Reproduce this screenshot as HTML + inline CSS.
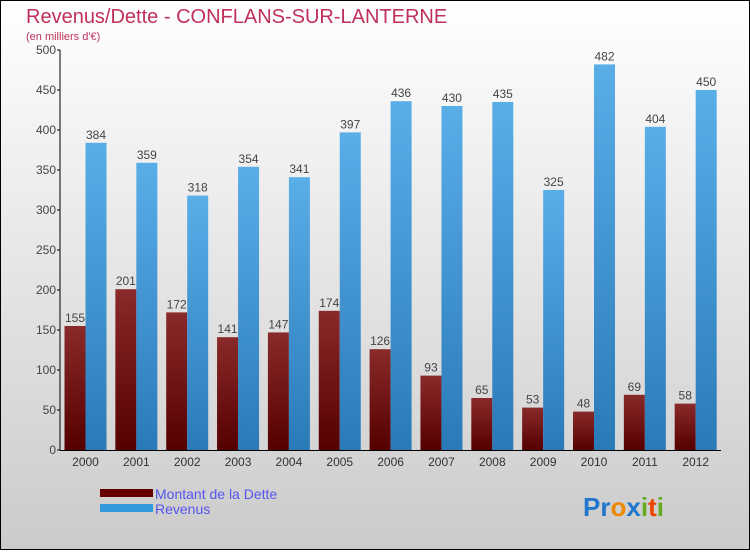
<!DOCTYPE html>
<html><head><meta charset="utf-8"><style>
body{margin:0}
#c{width:750px;height:550px;position:relative;font-family:"Liberation Sans",sans-serif}
</style></head><body>
<div id="c">
<svg id="s" width="750" height="550" xmlns="http://www.w3.org/2000/svg">
<defs>
<linearGradient id="bg" x1="0" y1="0" x2="0" y2="1"><stop offset="0" stop-color="#ffffff"/><stop offset="1" stop-color="#cbcbcb"/></linearGradient>
<linearGradient id="gd" x1="0" y1="0" x2="0" y2="1"><stop offset="0" stop-color="#8a2a2a"/><stop offset="1" stop-color="#550000"/></linearGradient>
<linearGradient id="gr" x1="0" y1="0" x2="0" y2="1"><stop offset="0" stop-color="#5aaee8"/><stop offset="1" stop-color="#2a7ab8"/></linearGradient>
</defs>
<rect x="0.5" y="0.5" width="749" height="549" fill="url(#bg)" stroke="#000"/>
<text x="26" y="23" font-size="20" fill="#c0305a">Revenus/Dette - CONFLANS-SUR-LANTERNE</text>
<text x="26" y="40" font-size="11" fill="#c0305a">(en milliers d'€)</text>
<g id="plot"></g>
<rect x="100" y="489" width="53" height="8" fill="#660000"/>
<text x="155" y="499" font-size="14" fill="#5555ee">Montant de la Dette</text>
<rect x="100" y="504" width="53" height="8" fill="#3399dd"/>
<text x="155" y="514" font-size="14" fill="#5555ee">Revenus</text>
<text x="583" y="516" font-size="26" font-weight="bold"><tspan fill="#2277cc">Pr</tspan><tspan fill="#ee8800">o</tspan><tspan fill="#2277cc">x</tspan><tspan fill="#66aa22">i</tspan><tspan fill="#ee4400">t</tspan><tspan fill="#66aa22">i</tspan></text>
</svg>
</div>
<script>
const years=["2000","2001","2002","2003","2004","2005","2006","2007","2008","2009","2010","2011","2012"];
const dette=[155,201,172,141,147,174,126,93,65,53,48,69,58];
const revenus=[384,359,318,354,341,397,436,430,435,325,482,404,450];
const yTicks=[0,50,100,150,200,250,300,350,400,450,500];
const NS="http://www.w3.org/2000/svg";
const g=document.getElementById('plot');
const y=v=>450-v*0.8;
const xc=i=>85.5+i*50.85;
function mk(t,a){const e=document.createElementNS(NS,t);for(const k in a)e.setAttribute(k,a[k]);g.appendChild(e);return e;}
let ax=mk('line',{x1:60,y1:50,x2:60,y2:450,stroke:'#000'});


let bx=mk('line',{x1:60,y1:450.5,x2:721,y2:450.5,stroke:'#000'});


yTicks.forEach(v=>{
  const t=mk('line',{x1:57,y1:y(v),x2:60,y2:y(v),stroke:'#000'});
  
  
  const l=mk('text',{x:56,y:y(v)+4,'font-size':12,fill:'#444','text-anchor':'end'});
  l.textContent=v;
  
  
});
years.forEach((yr,i)=>{
  const c=xc(i);
  const d=mk('rect',{x:c-21,y:y(dette[i]),width:21,height:dette[i]*0.8,fill:'url(#gd)'});
  
  
  const r=mk('rect',{x:c,y:y(revenus[i]),width:21,height:revenus[i]*0.8,fill:'url(#gr)'});
  
  
  const dl=mk('text',{x:c-10.5,y:y(dette[i])-4,'font-size':12,fill:'#444','text-anchor':'middle'});
  dl.textContent=dette[i];
  
  
  const rl=mk('text',{x:c+10.5,y:y(revenus[i])-4,'font-size':12,fill:'#444','text-anchor':'middle'});
  rl.textContent=revenus[i];
  
  
  const xl=mk('text',{x:c,y:466,'font-size':12,fill:'#333','text-anchor':'middle'});
  xl.textContent=yr;
  
  
});
</script>
</body></html>
